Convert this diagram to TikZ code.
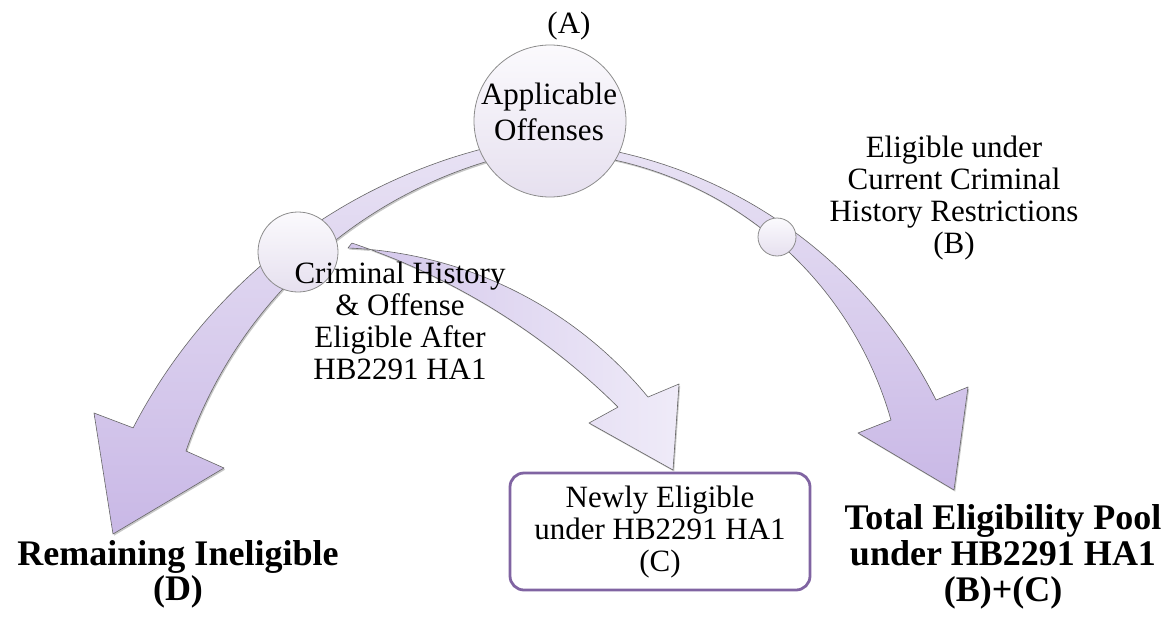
\documentclass[tikz,border=0pt]{standalone}
\usepackage{fontspec}
\setmainfont{Liberation Serif}
\usetikzlibrary{shadows}
\definecolor{arrtop}{HTML}{E8E2F4}
\definecolor{arrbot}{HTML}{C9B8E6}
\definecolor{midstem}{HTML}{D3C6EB}
\definecolor{midhead}{HTML}{EFEBF8}
\definecolor{balltop}{HTML}{FBFAFD}
\definecolor{ballbot}{HTML}{E6E0EF}
\definecolor{boxpurple}{HTML}{8064A2}
\tikzset{
  arrowshape/.style={draw=black!60, line width=0.6pt, line join=round,
    drop shadow={shadow xshift=1.2pt, shadow yshift=-1.6pt, opacity=0.22, fill=black}},
  ballnode/.style={circle, draw=black!45, line width=0.8pt, top color=balltop,
    bottom color=ballbot, inner sep=0pt},
  lbl/.style={inner sep=0pt, anchor=base, font=\fontsize{31}{32}\selectfont},
  boldlbl/.style={inner sep=0pt, anchor=base, font=\fontsize{36}{36}\selectfont\bfseries},
}
\begin{document}
\begin{tikzpicture}[x=1pt,y=-1pt]
\useasboundingbox (0,0) rectangle (1169,621);

% left arrow
\path[arrowshape, top color=arrtop, bottom color=arrbot]
  plot[domain=257:207.4, samples=60] ({621.3+549.9*cos(\x)},{680.9+549.9*sin(\x)})
  -- (94,413) -- (113,534) -- (224,468) -- (186,451)
  -- plot[domain=198.95:256, samples=60] ({618.8+457.6*cos(\x)},{599.6+457.6*sin(\x)})
  -- cycle;

% right arrow
\path[arrowshape, top color=arrtop, bottom color=arrbot]
  plot[domain=-80:-26.52, samples=60] ({517.1+468.2*cos(\x)},{609.1+468.2*sin(\x)})
  -- (968,387) -- (954,490) -- (858,433) -- (891,420)
  -- plot[domain=-15.84:-79, samples=60] ({535.7+369.3*cos(\x)},{520.8+369.3*sin(\x)})
  -- cycle;

% middle arrow
\path[arrowshape, left color=midstem, right color=midhead]
  plot[domain=-87.77:-39.4, samples=60] ({332.1+408.8*cos(\x)},{656.5+408.8*sin(\x)})
  -- (679,384) -- (673,470) -- (589,423)
  -- plot[domain=-45.2:-71.5, samples=60] ({133.8+687.2*cos(\x)},{894.7+687.2*sin(\x)})
  -- cycle;

% circles
\node[ballnode, minimum size=152pt] (offenses) at (550,121) {};
\node[ballnode, minimum size=80pt] (histball) at (298,252) {};
\node[ballnode, minimum size=38pt] (curball) at (777,237) {};

% box
\node[draw=boxpurple, line width=2.8pt, rounded corners=14pt, fill=white,
      minimum width=300pt, minimum height=117pt, inner sep=0pt] (newbox) at (660,531.5) {};

% labels
\node[lbl] (lblA) at (569,33) {(A)};
\node[lbl, font=\fontsize{31}{36}\selectfont] (lblApp) at (549,104)
  {\begin{tabular}[t]{@{}c@{}}Applicable\\Offenses\end{tabular}};
\node[lbl] (lblCH) at (400,283)
  {\begin{tabular}[t]{@{}c@{}}Criminal History\\\& Offense\\Eligible After\\HB2291 HA1\end{tabular}};
\node[lbl] (lblB) at (954,157)
  {\begin{tabular}[t]{@{}c@{}}Eligible under\\Current Criminal\\History Restrictions\\(B)\end{tabular}};
\node[lbl] (lblC) at (660,507)
  {\begin{tabular}[t]{@{}c@{}}Newly Eligible\\under HB2291 HA1\\(C)\end{tabular}};
\node[boldlbl, font=\fontsize{36}{35}\selectfont\bfseries] (lblD) at (178,565)
  {\begin{tabular}[t]{@{}c@{}}Remaining Ineligible\\(D)\end{tabular}};
\node[boldlbl] (lblBC) at (1003,529)
  {\begin{tabular}[t]{@{}c@{}}Total Eligibility Pool\\under HB2291 HA1\\(B)+(C)\end{tabular}};
\end{tikzpicture}
\end{document}
